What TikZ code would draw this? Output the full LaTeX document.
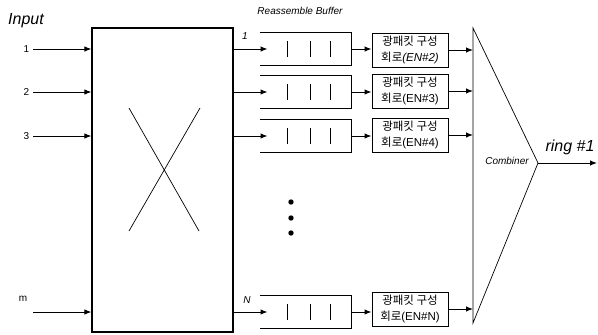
\documentclass[tikz,border=0pt]{standalone}
\usepackage{fontspec}
\setmainfont{Liberation Sans}
\newfontfamily\krfont{Noto Sans CJK KR}
\usetikzlibrary{arrows.meta}

\tikzset{
  buf/.style={minimum width=91pt,minimum height=32pt,inner sep=0pt},
  enbox/.style={draw,minimum width=76pt,minimum height=34pt,inner sep=1pt,
    align=center,font=\fontsize{11.5}{15.5}\selectfont},
  lbl/.style={font=\fontsize{10}{12}\selectfont\itshape},
  thin line/.style={line width=0.7pt}
}

\begin{document}
\begin{tikzpicture}[x=1pt,y=-1pt, every node/.style={font=\fontsize{10}{12}\selectfont},
    line width=1pt, >={Latex[length=7pt,width=5.5pt]}]
    \useasboundingbox (0,0) rectangle (598,335);
		%---------------- SWITCH ----------------
		\node[draw,line width=1.2pt,minimum width=141pt,minimum height=304pt] (sw) at (162.5,180) {};
		\draw[thin line] (129,108) -- (199,231);
		\draw[thin line] (200,108) -- (129,231);
		\node[font=\fontsize{16}{18}\selectfont\itshape] (inp) at (26,21) {Input};
		
		% inputs 1..3 and m
		\foreach \N/\Y in {1/49,2/92,3/136} {
			\coordinate (in\N) at (33,\Y);
			\node[left] (lin\N) at (in\N) {\N};
			\draw[->] (in\N) -- (in\N -| sw.west);
		}
		\coordinate (inm) at (33,312);
		\node (linm) at (23,299) {m};
		\draw[->] (inm) -- (inm -| sw.west);
		
		%---------------- BUFFERS ----------------
		\node[font=\fontsize{10}{12}\selectfont\itshape] (rb) at (300,11) {Reassemble Buffer};
		\foreach \i/\Y in {1/49,2/92,3/136,4/312} {
			\node[buf] (b\i) at (305.5,\Y) {};
			\draw[line width=1.2pt] (b\i.north west) -- (b\i.north east) -- (b\i.south east) -- (b\i.south west);
			\foreach \dx in {-18,5,25}
				\draw ([xshift=\dx pt,yshift=8pt]b\i.center) -- ([xshift=\dx pt,yshift=-8pt]b\i.center);
			\draw[->] (sw.east |- b\i) -- ([xshift=8pt]b\i.west);
		}
		\node[lbl] (o1) at (245,36) {1};
		\node[lbl] (oN) at (247,300) {N};
		
		% dots
		\foreach \Y in {202,218,233} {
			\fill (291,\Y) circle (2.7pt);
		}
		
		%---------------- EN BOXES ----------------
		\coordinate (cmbT) at (473,28);
		\coordinate (cmbB) at (473,323);
		\coordinate (cmbA) at (538,163);
		\foreach \i/\Y/\T in {1/50/{\itshape (EN\#2)},2/91/(EN\#3),3/135/(EN\#4),4/309/(EN\#N)} {
			\node[enbox] (en\i) at (410,\Y) {{\krfont 광패킷 구성}\\{\krfont 회로}\T};
			\draw[->] (b\i.east) -- (b\i.east -| en\i.west);
			\draw[->] (en\i.east) -- (en\i.east -| cmbT);
		}
		
		%---------------- COMBINER ----------------
		\draw[thin line] (cmbT) -- (cmbB) -- (cmbA) -- cycle;
		\node[font=\fontsize{10}{12}\selectfont\itshape] (cmb) at (507,161) {Combiner};
		\coordinate (ring) at (597,163);
		\draw[->] (cmbA) -- (ring);
		\node[font=\fontsize{16}{18}\selectfont\itshape] (rl) at (570,147) {ring \#1};
	\end{tikzpicture}
\end{document}
